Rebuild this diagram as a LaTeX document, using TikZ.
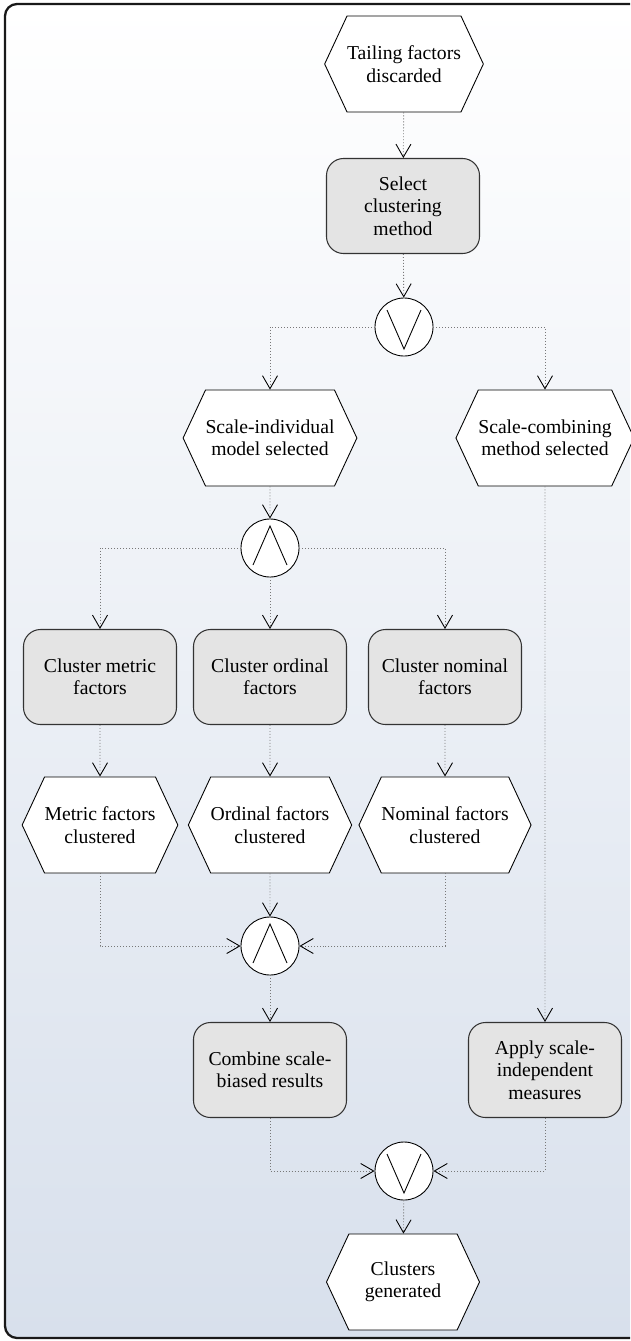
\documentclass[tikz,border=0pt]{standalone}
\usepackage{fontspec}
\setmainfont{Liberation Serif}
\usetikzlibrary{shapes.symbols,arrows.meta}

\definecolor{taskgray}{RGB}{228,228,228}
\definecolor{flowgray}{RGB}{120,120,120}
\definecolor{panelblue}{RGB}{216,224,236}

\begin{document}
\begin{tikzpicture}[x=0.2mm,y=-0.2mm,
    font=\fontsize{11.2}{12.8}\selectfont,
    event/.style={draw=black, line width=0.5pt, fill=white, signal, signal to=east and west,
        signal pointer angle=130, minimum width=30.6mm, minimum height=19.2mm,
        inner xsep=0pt, inner ysep=1pt, align=center},
    task/.style={draw=black!80, line width=0.6pt, fill=taskgray, rounded corners=3.4mm,
        minimum width=30.6mm, minimum height=19mm, align=center},
    gate/.style={draw=black, line width=0.5pt, fill=white, circle, minimum size=11.6mm, inner sep=0pt},
    orgate/.style={gate, path picture={
        \draw[line width=0.5pt] ([shift={(-3.4mm,3.4mm)}]path picture bounding box.center)
            -- ([shift={(0mm,-4.4mm)}]path picture bounding box.center)
            -- ([shift={(3.4mm,3.4mm)}]path picture bounding box.center);}},
    andgate/.style={gate, path picture={
        \draw[line width=0.5pt] ([shift={(-3.4mm,-3.4mm)}]path picture bounding box.center)
            -- ([shift={(0mm,4.4mm)}]path picture bounding box.center)
            -- ([shift={(3.4mm,-3.4mm)}]path picture bounding box.center);}},
    link/.style={draw=flowgray, line width=0.5pt, dash pattern=on 0.5pt off 1.2pt},
    flow/.style={link, -{Straight Barb[length=2.6mm,width=3mm,color=black,line width=0.5pt]}}
]

\useasboundingbox (0,0) rectangle (630,1341);

% Panel with shaded background
\begin{scope}
    \clip (0,0) rectangle (630,1341);
    \shade[top color=white, bottom color=panelblue, rounded corners=2.4mm] (5,4) rectangle (700,1338);
    \draw[line width=1.3pt, black!90, rounded corners=2.4mm] (700,4) -- (5,4) -- (5,1338) -- (700,1338);
\end{scope}

% Start
\node[event] (tailing) at (404,64) {Tailing factors\\discarded};
\node[task] (select) at (403,206) {Select\\clustering\\method};
\node[orgate] (orsplit) at (404,327) {};

% Two branches
\node[event] (individual) at (270,438) {Scale-individual\\model selected};
\node[event] (combining) at (545,438) {Scale-combining\\method selected};
\node[andgate] (andsplit) at (270,548) {};

% Scale-individual: one task per scale
\node[task] (metric) at (100,677) {Cluster metric\\factors};
\node[task] (ordinal) at (270,677) {Cluster ordinal\\factors};
\node[task] (nominal) at (445,677) {Cluster nominal\\factors};

\node[event] (metricdone) at (100,825) {Metric factors\\clustered};
\node[event] (ordinaldone) at (270,825) {Ordinal factors\\clustered};
\node[event] (nominaldone) at (445,825) {Nominal factors\\clustered};

\node[andgate] (andjoin) at (270,946) {};
\node[task] (combine) at (270,1070) {Combine scale-\\biased results};
\node[task] (apply) at (545,1070) {Apply scale-\\independent\\measures};

% End
\node[orgate] (orjoin) at (404,1171) {};
\node[event] (clusters) at (403,1282) {Clusters\\generated};

% Connectors
\draw[flow] (tailing) -- (select);
\draw[flow] (select) -- (orsplit);
\draw[flow] (orsplit.west) -| (individual.north);
\draw[flow] (orsplit.east) -| (combining.north);
\draw[flow] (individual) -- (andsplit);
\draw[flow] (andsplit.west) -| (metric.north);
\draw[flow] (andsplit) -- (ordinal);
\draw[flow] (andsplit.east) -| (nominal.north);
\draw[flow] (metric) -- (metricdone);
\draw[flow] (ordinal) -- (ordinaldone);
\draw[flow] (nominal) -- (nominaldone);
\draw[flow] (metricdone.south) |- (andjoin.west);
\draw[flow] (ordinaldone) -- (andjoin);
\draw[flow] (nominaldone.south) |- (andjoin.east);
\draw[flow] (andjoin) -- (combine);
\draw[flow] (combining) -- (apply);
\draw[flow] (combine.south) |- (orjoin.west);
\draw[flow] (apply.south) |- (orjoin.east);
\draw[flow] (orjoin) -- (clusters);

\end{tikzpicture}
\end{document}
